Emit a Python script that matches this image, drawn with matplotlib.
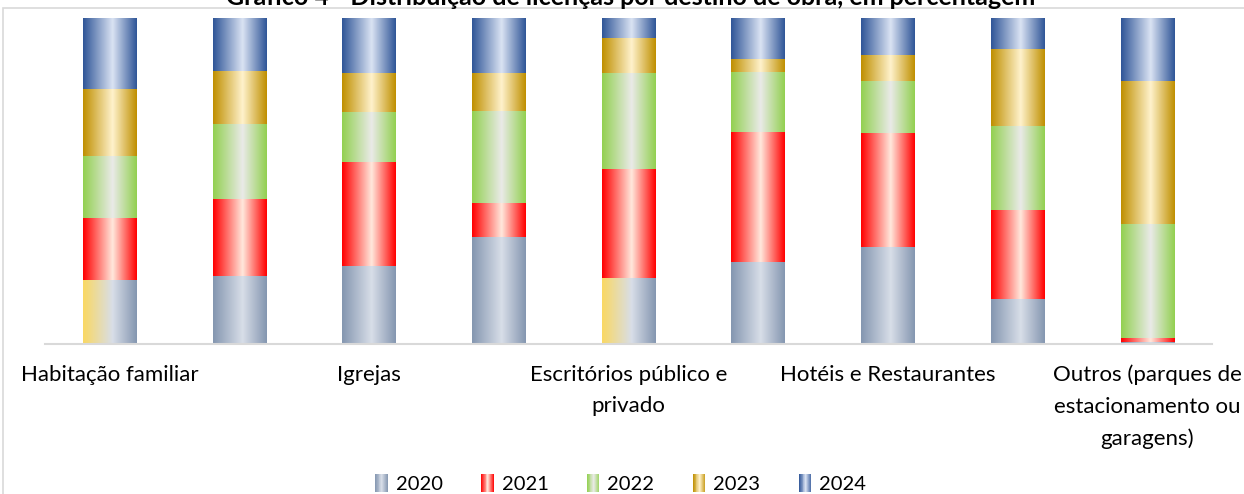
import matplotlib
matplotlib.use("Agg")
import matplotlib.pyplot as plt
import numpy as np
from matplotlib.colors import LinearSegmentedColormap
from matplotlib.legend_handler import HandlerBase
from matplotlib.patches import Rectangle

plt.rcParams['font.family'] = ['Lato', 'DejaVu Sans']

# dados (percentagens)
categorias = ["Habitação familiar", "", "Igrejas", "", "Escritórios público e\nprivado", "",
              "Hotéis e Restaurantes", "", "Outros (parques de\nestacionamento ou\ngaragens)"]
anos = ["2020", "2021", "2022", "2023", "2024"]
v2020 = [19.7, 20.9, 23.9, 32.9, 20.3, 25.2, 29.8, 13.8, 0.6]
v2021 = [19.1, 23.6, 31.9, 10.5, 33.5, 39.9, 35.0, 27.3, 1.2]
v2022 = [18.8, 23.0, 15.3, 28.0, 29.2, 18.4, 16.0, 25.8, 35.0]
v2023 = [20.6, 16.3, 12.0, 11.7, 10.8, 4.0, 8.0, 23.6, 43.9]
v2024 = [21.8, 16.3, 16.9, 16.9, 6.2, 12.6, 11.3, 9.5, 19.3]
valores = [v2020, v2021, v2022, v2023, v2024]

# cores: (borda, centro)
cores = [("#8496B0", "#D8DEE8"),
         ("#FF0000", "#FFE8DC"),
         ("#92D050", "#EAEAE8"),
         ("#BF8F00", "#FFF2CC"),
         ("#2F5597", "#DAE3F3")]

def grad(borda, centro, esq=None):
    if esq is None:
        esq = borda
    return LinearSegmentedColormap.from_list("g", [(0, esq), (0.55, centro), (1, borda)])

mapas = [grad(b, c) for b, c in cores]
mapa_amarelo = grad(cores[0][0], cores[0][1], "#FAD862")

fig = plt.figure(figsize=(12.44, 4.94), dpi=100)
ax = fig.add_axes([44.6 / 1244, 1 - 344 / 494, (1212 - 44.6) / 1244, 326 / 494])

# moldura do gráfico
fig.patches.append(Rectangle((3 / 1244, -0.1), 1.2, 1 - 8.5 / 494 + 0.1, transform=fig.transFigure,
                             fill=False, edgecolor="#D9D9D9", linewidth=1.2))

x = np.arange(len(categorias))
base = np.zeros(len(categorias))
grad_x = np.linspace(0, 1, 256).reshape(1, -1)
for s, vals in enumerate(valores):
    barras = ax.bar(x, vals, 0.41, bottom=base, color="none", linewidth=0)
    for i, p in enumerate(barras.patches):
        cmap = mapas[s]
        if s == 0 and i in (0, 4):
            cmap = mapa_amarelo
        x0, y0, w, h = p.get_x(), p.get_y(), p.get_width(), p.get_height()
        ax.imshow(grad_x, cmap=cmap, extent=[x0, x0 + w, y0, y0 + h], aspect="auto",
                  interpolation="bilinear", zorder=2)
    base = base + np.array(vals)

ax.set_xlim(-0.5, len(categorias) - 0.5)
ax.set_ylim(0, 100)
ax.set_yticks([])
ax.set_xticks(x)
ax.set_xticklabels(categorias, fontsize=16, linespacing=1.7)
ax.tick_params(axis="x", length=0, pad=15)
for lado in ["top", "left", "right"]:
    ax.spines[lado].set_visible(False)
ax.spines["bottom"].set_color("#D9D9D9")
ax.spines["bottom"].set_linewidth(1.5)
ax.patch.set_alpha(0)

fig.text(0.507, 1 - 5 / 494, "Gráfico 4 - Distribuição de licenças por destino de obra, em percentagem",
         ha="center", va="baseline", fontsize=18, fontweight="bold")


class Gradiente(HandlerBase):
    def __init__(self, cmap):
        super().__init__()
        self.cmap = cmap

    def create_artists(self, legend, orig_handle, xdescent, ydescent, width, height, fontsize, trans):
        n = 14
        arts = []
        for k in range(n):
            r = Rectangle((-xdescent + k * width / n, -ydescent), width / n * 1.08, height,
                          facecolor=self.cmap((k + 0.5) / n), edgecolor="none", linewidth=0,
                          transform=trans)
            arts.append(r)
        return arts


handles = [Rectangle((0, 0), 1, 1) for _ in anos]
fig.legend(handles, anos, loc="lower center", bbox_to_anchor=(0.499, -0.035), ncol=5, frameon=False,
           fontsize=14.5, handlelength=0.62, handleheight=1.0, columnspacing=1.91, handletextpad=0.4,
           handler_map={h: Gradiente(m) for h, m in zip(handles, mapas)})

fig.savefig("out.png", dpi=100)
